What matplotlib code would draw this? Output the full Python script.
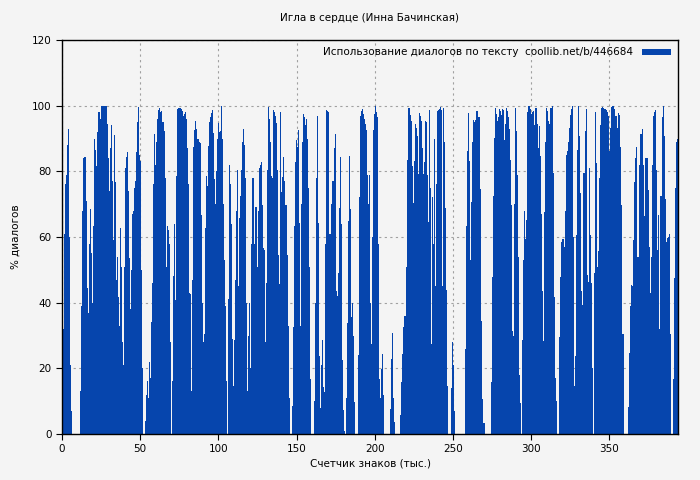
import numpy as np
import matplotlib
matplotlib.use("Agg")
import matplotlib.pyplot as plt

# share of dialogue per text chunk, read left to right (one value per screen column)
part1 = [8.5, 32, 61, 76, 79, 88, 93, 60, 21, 7, 0, 0, 0, 0, 0, 0, 0, 0,
         13, 39, 68, 84, 84.5, 84.5, 71, 44.5, 37, 58, 68.6, 55, 40, 63.5, 90, 86.6,
         81.5, 92, 98, 90, 96, 100, 100, 100, 100, 100, 94.5, 84, 74, 87, 94, 77,
         59, 91, 76.6, 47, 54, 41.6, 33, 62.6, 51, 28, 21, 51, 81, 84.5, 86, 74,
         53.5, 38, 50, 67, 68, 75, 77, 86, 95, 99.5, 85, 83, 50, 20, 0, 0,
         4, 12, 16, 11, 22, 17, 34, 46, 76, 91.5, 82, 89, 96, 98.6, 99.4, 98,
         98.5, 95, 95]
part2 = [92.4, 78, 51, 63.5, 62, 58, 28, 0, 16, 48, 64, 40.7, 78.7, 99, 99.4,
         99.4, 99, 98.5, 97, 97.6, 98, 96, 87, 76, 43, 42.5, 13, 47, 87.5, 92.7,
         95.4, 93, 90, 89.7, 89, 88.5, 66.6, 39.8, 28, 30.4, 62.6, 78.7, 75.4,
         87.8, 95, 96.4, 97.9, 98.8, 91.8, 77.8, 70, 80, 90, 94.8, 92, 92.4, 100,
         90, 70, 53, 39, 16, 0, 41, 82, 76, 64, 29, 14.6, 28.6, 47, 68, 80.5,
         45, 65.7, 72.6, 80.5, 88.8, 93, 88, 78, 40, 13, 30, 40, 20, 58, 78, 51,
         58, 69, 50.8, 68, 81, 82, 82.7, 69.6, 56.5, 56, 28, 46]
part3 = [80.5, 99.7, 96, 89, 78.7, 78, 98.8, 98, 97, 94.8, 80.5, 54.4, 45.6,
         98, 73.6, 78.4, 84.5, 77, 69.6, 69.6, 54.4, 33, 11, 0, 0, 8.5, 32.5,
         63.5, 82.7, 89.4, 87.5, 92.7, 64.4, 33, 70, 89, 97.6, 96.4, 94, 96,
         89.7, 74.8, 50.8, 16.7, 0, 0, 0, 10, 40, 78, 97, 64.4, 23.7, 8, 21,
         28.6, 14.3, 12.8, 58, 98.8, 98.5, 98, 60.8, 58.7, 70.2, 77, 87, 91.5,
         43.5, 42, 49, 68.7, 84.5, 64, 22.5, 7.3, 1, 0, 11, 33.7, 65, 84.8, 68.4,
         35.6, 40, 29.8, 9.7, 0, 0, 0, 24, 72.3, 97, 98.5, 99, 97.6, 96, 94.5,
         92.7, 79, 70, 79, 40]
part4 = [27.4, 60, 92.7, 97.6, 100, 98, 96.4, 57.8, 16.7, 11, 19.8, 24.3, 12,
         0, 0, 0, 0, 0, 0, 7.6, 22.8, 30.7, 11, 3.6, 0, 0, 0, 0, 0, 5.8, 15.8,
         24.3, 32.5, 36, 35.9, 51, 83.3, 99.4, 97.3, 95.4, 81.5, 70.5, 83, 94.5,
         93.3, 90.9, 79.3, 97.9, 97, 95.4, 87.2, 79.3, 82.7, 95.4, 95, 79, 64.7,
         98.8, 74.8, 27.4, 72.3, 57.8, 90, 45, 76, 98.5, 98.8, 99, 99.7, 98.8,
         45, 99.4, 89, 68.7, 43.8, 14.6, 0, 0, 0, 14, 28, 21, 7, 0, 0, 0, 0, 0,
         0, 0, 0, 0, 0, 25.8, 63.2, 86.3, 97.9, 83, 53, 70.8, 88.8, 95.7]
part5 = [95, 95.7, 98.5, 98.5, 96.4, 96.4, 74.5, 34.3, 10.6, 3.3, 0, 0, 0, 0,
         0, 0, 15.8, 47.7, 72.6, 90.3, 99.4, 97.6, 95.4, 96.7, 99, 98.5, 97.3,
         99, 98.8, 89.4, 94.5, 99.4, 98.5, 96.4, 93, 83.6, 69.6, 31.3, 30, 70,
         99.4, 92.4, 79, 54, 18, 9.4, 0, 28.6, 53, 68, 59.3, 65.3, 98, 100, 100,
         99, 97.6, 98, 98.3, 94, 99.4, 99.4, 94.5, 87.2, 93.9, 84.8, 66.9, 43.5,
         28.3, 67.5, 88.8, 99.4, 98.5, 95.4, 94.5, 99.4, 99.4, 100, 79.6, 41.6,
         17, 10, 0, 0, 29.5, 47.7, 58.4, 59.3, 57, 68, 85, 86.3, 89, 93.3, 97.3,
         99, 100, 60, 14.6, 23.7, 60.5]
part6 = [86.6, 100, 90.9, 73.3, 43.5, 39.2, 79.6, 79.6, 92.4, 99, 48.3, 46.2,
         80.9, 60.5, 46, 20, 0, 49, 98, 82.4, 51, 55.6, 78, 94.2, 99.4, 99.7,
         99.4, 99, 99, 98.8, 98, 97, 86.3, 93.3, 99.7, 100, 100, 99, 97, 97,
         93.3, 97.9, 97.3, 87.5, 69.6, 30.4, 30.4, 0, 0, 0, 0, 8.2, 24.6, 38.9,
         45.3, 45, 59, 76.6, 84, 87.5, 53.8, 54, 82, 91.5, 93, 81.8, 66.3, 84.2,
         84.2, 84.2, 74.2, 57, 43, 53.8, 82, 97, 98, 98.8, 80.5, 56, 66.6, 31.9,
         72.6, 72.6, 96.7, 100, 90.9, 71.7, 58.4, 59.6, 60, 60.8, 30.4, 0, 0,
         16.7, 47.4, 74.8, 89, 89.7]

dialog_pct = np.array(part1 + part2 + part3 + part4 + part5 + part6)

title = "Игла в сердце (Инна Бачинская)"
legend_label = "Использование диалогов по тексту  coollib.net/b/446684"
x_max = 394
ticks_x = [0, 50, 100, 150, 200, 250, 300, 350]
ticks_y = [0, 20, 40, 60, 80, 100, 120]

bg = "#f4f4f4"
blue = "#0645ad"

step = x_max / len(dialog_pct)
xs = (np.arange(len(dialog_pct)) + 0.5) * step

plt.rcParams["font.family"] = ["DejaVu Sans"]
plt.rcParams["font.size"] = 7.5

fig = plt.figure(figsize=(7, 4.8), dpi=100, facecolor=bg)
ax = fig.add_axes([62 / 700, 1 - 434 / 480, 616 / 700, 394 / 480], facecolor=bg)

ax.bar(xs, dialog_pct, width=step * 1.05, color=blue, linewidth=0,
       label=legend_label, zorder=2)

ax.set_xlim(0, x_max)
ax.set_ylim(0, 120)
ax.set_xticks(ticks_x)
ax.set_yticks(ticks_y)
ax.grid(True, color="#a0a0a0", linestyle=(0, (2, 3)), linewidth=0.8, zorder=1)
ax.tick_params(direction="out", length=4, width=0.8, top=False, right=False)
for s in ax.spines.values():
    s.set_linewidth(1)
    s.set_color("black")

ax.set_title(title, fontsize=7.5, pad=14)
ax.set_xlabel("Счетчик знаков (тыс.)", labelpad=3)
ax.set_ylabel("% диалогов", labelpad=8)

leg = ax.legend(loc="upper right", frameon=False, markerfirst=False,
                handlelength=2.8, handleheight=0.5, borderaxespad=0.3,
                fontsize=7.5)

fig.savefig("out.png", dpi=100, facecolor=bg)
